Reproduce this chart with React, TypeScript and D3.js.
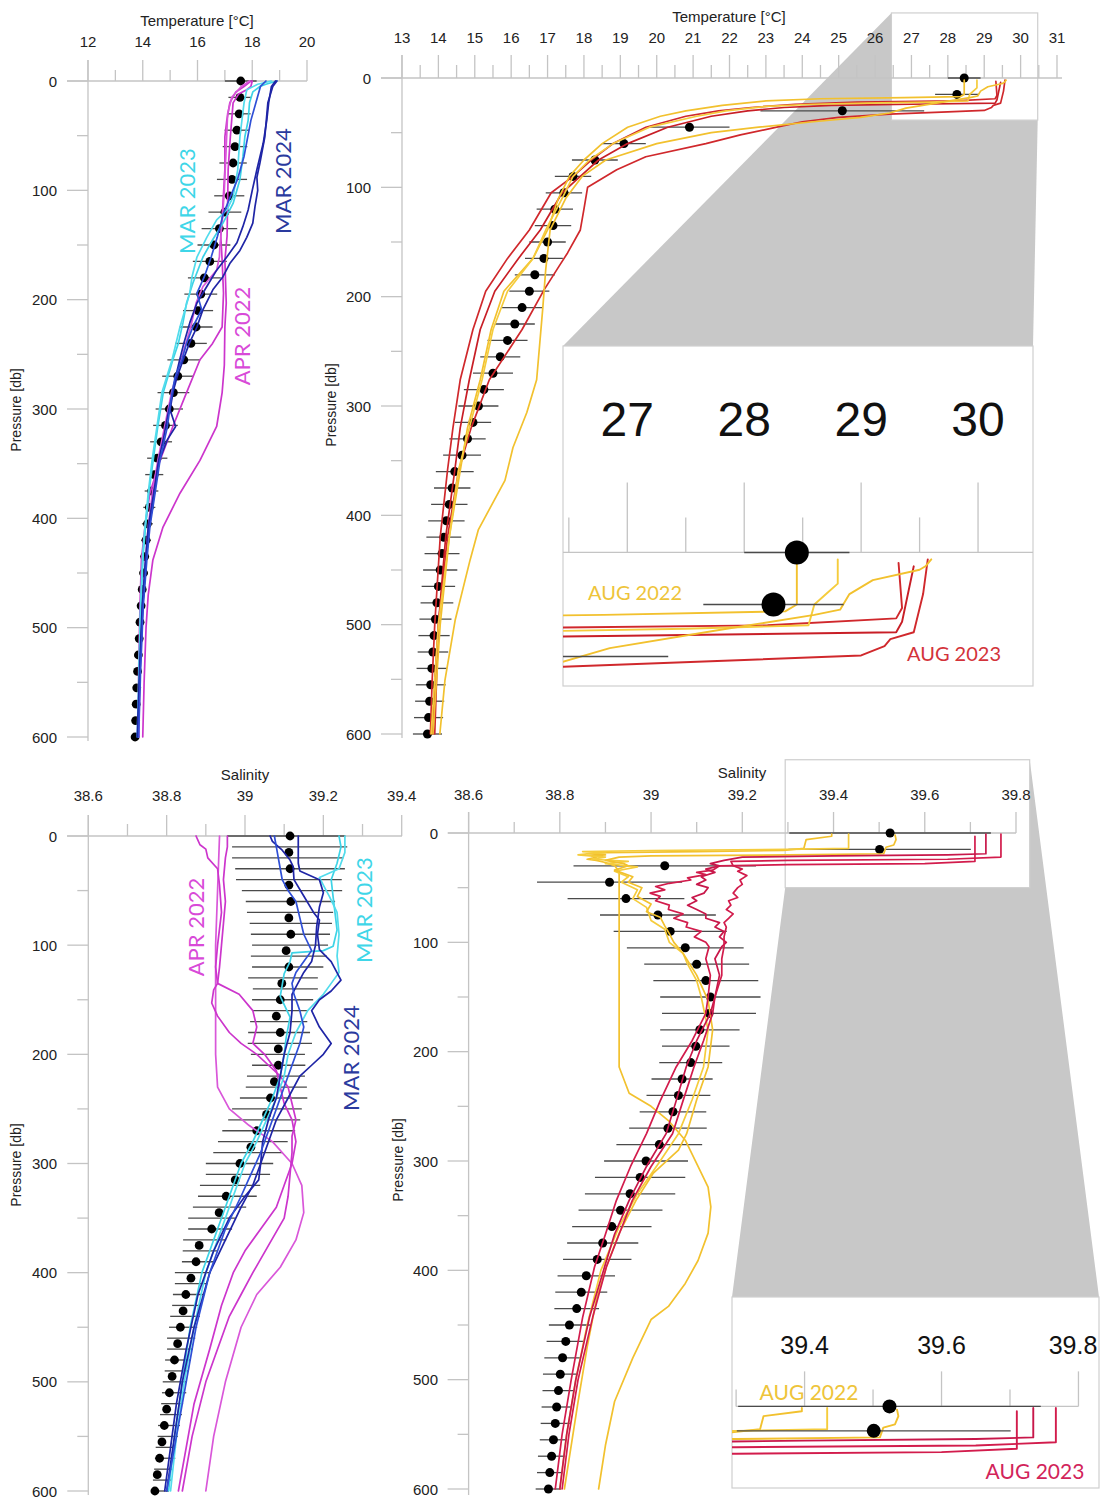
import React from "react";
import * as d3 from "d3";

type P = [number, number][];

// ---------------- levels & ticks ----------------
const LEV15 = d3.range(0, 601, 15);
const LEV10 = d3.range(0, 601, 10);
const P_MAJOR = [0, 100, 200, 300, 400, 500, 600];
const P_MINOR = [50, 150, 250, 350, 450, 550];
const T_TL_MAJOR = [12, 14, 16, 18, 20];
const T_TL_MINOR = [13, 15, 17, 19];
const T_TR_MAJOR = [13, 14, 15, 16, 17, 18, 19, 20, 21, 22, 23, 24, 25, 26, 27, 28, 29, 30, 31];
const T_TR_MINOR = [13.5, 14.5, 15.5, 16.5, 17.5, 18.5, 19.5, 20.5, 21.5, 22.5, 23.5, 24.5, 25.5, 26.5, 27.5, 28.5, 29.5, 30.5];
const S_BL_MAJOR = [38.6, 38.8, 39.0, 39.2, 39.4];
const S_BL_MINOR = [38.7, 38.9, 39.1, 39.3];
const S_BR_MAJOR = [38.6, 38.8, 39.0, 39.2, 39.4, 39.6, 39.8];
const S_BR_MINOR = [38.7, 38.9, 39.1, 39.3, 39.5, 39.7];
const T_IN_MAJOR = [27, 28, 29, 30];
const T_IN_MINOR = [26.5, 27.5, 28.5, 29.5];
const S_IN_MAJOR = [39.4, 39.6, 39.8];
const S_IN_MINOR = [39.3, 39.5, 39.7];

// ---------------- climatology (dots + bars) ----------------
const TL_DOT = [17.58,17.55,17.52,17.44,17.37,17.3,17.26,17.16,17.0,16.8,16.6,16.45,16.25,16.12,16.02,15.95,15.76,15.5,15.28,15.12,14.97,14.83,14.67,14.53,14.42,14.32,14.24,14.17,14.12,14.07,14.03,13.98,13.94,13.9,13.87,13.84,13.81,13.78,13.76,13.74,13.72];
const TL_SD = [0.58,0.42,0.42,0.45,0.45,0.5,0.55,0.55,0.6,0.65,0.6,0.62,0.6,0.6,0.55,0.6,0.58,0.6,0.57,0.58,0.5,0.45,0.4,0.37,0.33,0.25,0.22,0.2,0.18,0.16,0.15,0.14,0.13,0.12,0.12,0.11,0.1,0.1,0.09,0.09,0.08];
const TR_DOT = [28.45,28.25,25.1,20.9,19.1,18.3,17.7,17.45,17.2,17.15,17.0,16.9,16.65,16.5,16.3,16.1,15.9,15.7,15.5,15.25,15.1,14.95,14.8,14.65,14.45,14.38,14.3,14.22,14.15,14.1,14.05,14.0,13.96,13.92,13.88,13.85,13.82,13.79,13.76,13.73,13.7];
const TR_SD = [0.45,0.6,2.25,1.1,0.6,0.63,0.5,0.5,0.5,0.5,0.5,0.52,0.55,0.55,0.55,0.55,0.55,0.55,0.55,0.55,0.55,0.5,0.5,0.52,0.52,0.5,0.5,0.5,0.48,0.48,0.47,0.46,0.45,0.44,0.43,0.42,0.42,0.41,0.4,0.4,0.4];
const BL_DOT = [39.115,39.112,39.115,39.112,39.117,39.112,39.117,39.105,39.112,39.094,39.09,39.08,39.09,39.085,39.085,39.075,39.065,39.055,39.03,39.015,38.987,38.975,38.952,38.934,38.915,38.883,38.875,38.862,38.849,38.842,38.835,38.828,38.82,38.814,38.807,38.8,38.794,38.788,38.782,38.776,38.77];
const BL_BAR = [39.105,39.114,39.109,39.115,39.112,39.12,39.116,39.115,39.117,39.116,39.115,39.112,39.109,39.097,39.103,39.096,39.089,39.086,39.087,39.089,39.084,39.086,39.079,39.08,39.073,39.056,39.049,39.035,39.02,39.008,38.986,38.982,38.962,38.955,38.935,38.915,38.911,38.897,38.886,38.879,38.867,38.862,38.857,38.852,38.847,38.842,38.837,38.834,38.829,38.826,38.821,38.819,38.814,38.811,38.806,38.803,38.798,38.796,38.791,38.788,38.783];
const BL_SD = [0.151,0.147,0.142,0.14,0.135,0.128,0.114,0.11,0.105,0.101,0.097,0.097,0.091,0.089,0.083,0.078,0.069,0.073,0.079,0.082,0.069,0.068,0.074,0.078,0.086,0.089,0.092,0.093,0.089,0.089,0.086,0.082,0.077,0.075,0.068,0.06,0.056,0.055,0.045,0.04,0.046,0.041,0.041,0.038,0.038,0.036,0.036,0.033,0.033,0.031,0.031,0.031,0.028,0.028,0.028,0.026,0.026,0.026,0.023,0.023,0.023];
const BR_DOT = [39.524,39.501,39.03,38.909,38.945,39.015,39.042,39.075,39.1,39.12,39.13,39.127,39.107,39.098,39.087,39.068,39.06,39.048,39.037,39.018,38.989,38.976,38.954,38.933,38.914,38.894,38.882,38.858,38.847,38.837,38.821,38.813,38.806,38.801,38.797,38.793,38.79,38.786,38.782,38.778,38.775];
const BR_SD = [0.221,0.2,0.2,0.159,0.128,0.127,0.124,0.128,0.115,0.115,0.11,0.103,0.087,0.074,0.069,0.067,0.07,0.073,0.085,0.094,0.092,0.099,0.099,0.092,0.087,0.078,0.075,0.063,0.057,0.049,0.045,0.042,0.04,0.038,0.035,0.033,0.032,0.03,0.03,0.028,0.028];

// ---------------- profiles: [pressure, value] ----------------
// Temperature, MAR/APR
const TL_MAR24_A: P = [[0,18.85],[5,18.7],[20,18.6],[36,18.53],[57,18.4],[81,18.17],[100,18.0],[118,17.85],[133,17.66],[148,17.44],[161,17.07],[173,16.7],[188,16.34],[203,15.98],[221,15.72],[240,15.5],[255,15.35],[271,15.2],[285,15.1],[301,15.0],[316,15.2],[328,14.9],[347,14.6],[377,14.42],[408,14.24],[438,14.12],[480,14.0],[540,13.9],[600,13.82]];
const TL_MAR24_B: P = [[0,18.9],[5,18.75],[20,18.57],[51,18.46],[75,18.28],[88,18.17],[100,18.2],[115,18.1],[130,18.02],[143,17.8],[155,17.55],[167,17.18],[179,16.93],[191,16.56],[209,16.2],[225,15.98],[240,15.7],[255,15.48],[271,15.25],[285,15.1],[301,14.95],[328,14.75],[347,14.58],[377,14.4],[408,14.2],[438,14.1],[480,13.98],[540,13.88],[600,13.8]];
const TL_MAR24_C: P = [[0,18.5],[5,18.3],[36,17.95],[69,17.7],[90,17.46],[106,17.2],[121,16.95],[143,16.72],[161,16.5],[179,16.25],[194,15.98],[209,16.15],[225,15.83],[240,15.6],[255,15.43],[271,15.18],[285,15.07],[301,14.98],[316,14.9],[347,14.63],[377,14.45],[408,14.26],[438,14.15],[480,14.02],[540,13.92],[600,13.85]];
const TL_MAR23_A: P = [[0,18.9],[3,18.5],[5,18.28],[10,18.02],[20,17.9],[36,17.85],[51,17.73],[69,17.66],[90,17.55],[112,17.3],[130,16.93],[145,16.56],[161,16.2],[185,15.83],[203,15.6],[221,15.47],[240,15.3],[255,15.1],[285,14.75],[316,14.55],[347,14.38],[377,14.22],[408,14.1],[432,14.02],[480,13.93],[540,13.87],[600,13.83]];
const TL_MAR23_B: P = [[0,18.7],[3,18.2],[8,17.8],[20,17.7],[51,17.55],[81,17.47],[106,17.3],[118,17.07],[127,16.7],[143,16.34],[161,15.98],[179,15.8],[194,15.72],[225,15.36],[255,15.07],[285,14.7],[316,14.52],[347,14.34],[377,14.2],[408,14.08],[432,14.0],[480,13.92],[540,13.86],[600,13.8]];
const TL_APR22_A: P = [[0,18.0],[5,17.95],[8,17.8],[12,17.5],[20,17.3],[51,17.2],[81,17.12],[112,17.1],[142,17.08],[164,17.0],[203,17.05],[225,17.0],[260,16.98],[285,16.9],[316,16.7],[347,16.09],[377,15.36],[408,14.74],[438,14.37],[470,14.2],[500,14.12],[550,14.05],[600,14.0]];
const TL_APR22_B: P = [[0,17.95],[5,17.7],[10,17.4],[20,17.18],[36,17.07],[51,17.0],[81,17.0],[112,16.93],[142,16.85],[164,16.9],[194,16.95],[225,16.9],[240,16.55],[255,16.09],[285,15.6],[316,15.1],[347,14.63],[377,14.26],[408,14.08],[438,13.95],[480,13.9],[540,13.85],[600,13.85]];
const TL_APR22_C: P = [[0,17.9],[5,17.6],[15,17.25],[30,17.1],[60,17.05],[100,16.98],[130,16.9],[150,16.82],[161,16.8],[173,16.7],[188,16.2],[203,15.95],[225,15.75],[255,15.4],[285,15.05],[316,14.8],[347,14.55],[377,14.35],[408,14.2],[438,14.1],[480,14.0],[540,13.9],[600,13.85]];

// Temperature, AUG
const TR_AUG22_A: P = [[2,28.45],[15,28.45],[17,28.35],[18,26.8],[19,24.5],[21,23.0],[25,21.8],[30,20.8],[35,20.1],[45,19.2],[60,18.5],[75,18.0],[90,17.6],[110,17.3],[139,17.0],[165,16.6],[195,15.8],[230,15.45],[276,15.15],[320,14.8],[359,14.6],[420,14.3],[500,14.05],[550,13.95],[600,13.85]];
const TR_AUG22_B: P = [[2,28.8],[9,28.8],[12,28.7],[15,28.6],[21,28.55],[22,27.5],[23,25.8],[24,24.3],[26,23.0],[30,21.9],[35,21.1],[45,19.8],[60,18.8],[75,18.15],[90,17.7],[110,17.4],[139,16.95],[165,16.6],[195,15.9],[230,15.5],[276,15.2],[320,14.85],[359,14.55],[420,14.3],[500,14.0],[550,13.9],[600,13.8]];
const TR_AUG22_C: P = [[2,29.6],[4,29.55],[5,29.5],[8,29.1],[12,28.9],[16.5,28.82],[18,28.6],[22,27.85],[27.6,26.85],[32,26.4],[36,25.6],[40,24.3],[45,22.8],[50,21.5],[60,20.0],[75,18.6],[90,17.95],[110,17.5],[139,17.07],[175,16.95],[210,16.87],[276,16.7],[306,16.43],[338,16.05],[368,15.83],[413,15.1],[441,14.87],[496,14.46],[551,14.18],[600,14.04]];
const TR_AUG23_A: P = [[3,29.32],[16,29.35],[19,29.3],[21,28.2],[22,25.5],[24,23.8],[27,22.6],[30,21.7],[35,20.8],[45,19.7],[60,18.8],[75,18.2],[90,17.7],[105,17.1],[139,16.5],[165,15.9],[195,15.3],[230,14.95],[276,14.6],[320,14.4],[359,14.25],[420,14.05],[500,13.9],[550,13.83],[600,13.78]];
const TR_AUG23_B: P = [[4,29.45],[12,29.4],[20,29.35],[23,29.3],[24,27.0],[25,24.8],[27,23.5],[30,22.5],[35,21.5],[45,20.3],[60,19.2],[75,18.4],[90,17.9],[105,17.4],[139,16.8],[165,16.2],[195,15.55],[230,15.15],[276,14.85],[320,14.6],[359,14.45],[420,14.2],[500,14.0],[550,13.9],[600,13.85]];
const TR_AUG23_C: P = [[2,29.57],[12,29.53],[23,29.45],[25,29.25],[27,29.2],[29.7,29.0],[31,28.0],[33,26.4],[36,25.0],[40,24.0],[45,23.3],[52,22.3],[60,21.35],[72,19.7],[84,18.9],[100,18.1],[120,18.0],[139,17.9],[160,17.55],[173,17.3],[194,16.9],[230,16.3],[276,15.4],[320,14.9],[360,14.55],[420,14.25],[500,14.0],[550,13.95],[600,13.9]];

// Salinity, MAR/APR
const BL_APR22_A: P = [[0,38.935],[50,38.93],[100,38.925],[150,38.925],[200,38.925],[230,38.93],[250,38.96],[265,39.01],[280,39.07],[300,39.12],[320,39.145],[345,39.15],[370,39.13],[395,39.09],[420,39.03],[450,38.99],[500,38.95],[550,38.92],[600,38.9]];
const BL_APR22_B: P = [[0,38.875],[4,38.88],[8,38.885],[12,38.9],[20,38.905],[30,38.93],[45,38.935],[70,38.94],[100,38.93],[120,38.925],[135,38.93],[145,38.985],[160,39.02],[175,39.03],[190,39.02],[200,39.05],[215,39.08],[230,39.09],[245,39.1],[260,39.12],[280,39.13],[300,39.12],[320,39.1],[340,39.08],[360,39.04],[380,39.0],[400,38.97],[430,38.94],[470,38.91],[520,38.87],[560,38.85],[600,38.83]];
const BL_APR22_C: P = [[0,38.955],[10,38.955],[20,38.95],[40,38.945],[60,38.95],[80,38.945],[100,38.94],[120,38.935],[135,38.93],[141,38.92],[153,38.915],[165,38.93],[180,38.96],[190,38.99],[200,39.03],[210,39.06],[220,39.09],[230,39.11],[245,39.12],[260,39.13],[275,39.12],[290,39.12],[310,39.115],[330,39.11],[350,39.1],[375,39.06],[400,39.02],[420,38.99],[440,38.96],[470,38.93],[500,38.9],[550,38.865],[600,38.84]];
const BL_MAR23_A: P = [[0,39.24],[10,39.245],[25,39.235],[40,39.22],[56,39.225],[86,39.235],[101,39.225],[105,39.2],[107,39.12],[115,39.115],[126,39.1],[147,39.09],[166,39.115],[185,39.105],[200,39.1],[220,39.09],[240,39.07],[260,39.045],[280,39.02],[300,38.99],[330,38.96],[360,38.93],[400,38.89],[450,38.86],[500,38.84],[550,38.82],[600,38.805]];
const BL_MAR23_B: P = [[0,39.255],[15,39.255],[30,39.24],[38,39.19],[45,39.2],[55,39.215],[70,39.235],[90,39.24],[110,39.235],[125,39.24],[135,39.22],[145,39.2],[160,39.16],[180,39.13],[200,39.11],[220,39.1],[240,39.08],[260,39.055],[280,39.03],[300,39.0],[330,38.97],[360,38.94],[400,38.9],[450,38.87],[500,38.845],[550,38.825],[600,38.81]];
const BL_MAR24_A: P = [[0,39.064],[5,39.07],[13,39.095],[22,39.115],[28,39.123],[40,39.125],[55,39.15],[70,39.175],[77,39.19],[90,39.185],[104,39.19],[115,39.22],[132,39.245],[142,39.22],[150,39.19],[160,39.17],[175,39.19],[190,39.22],[200,39.2],[210,39.17],[220,39.14],[240,39.11],[260,39.08],[280,39.06],[300,39.04],[320,39.02],[340,38.99],[370,38.95],[400,38.91],[450,38.87],[500,38.84],[550,38.82],[600,38.8]];
const BL_MAR24_B: P = [[0,39.136],[25,39.136],[32,39.14],[40,39.19],[52,39.2],[65,39.19],[83,39.183],[100,39.18],[115,39.17],[125,39.15],[135,39.135],[145,39.12],[160,39.12],[180,39.115],[200,39.1],[220,39.09],[240,39.08],[260,39.06],[280,39.045],[300,39.04],[315,39.035],[330,39.0],[350,38.96],[380,38.92],[420,38.88],[470,38.85],[520,38.825],[560,38.81],[600,38.795]];
const BL_MAR24_C: P = [[0,39.075],[10,39.08],[20,39.085],[30,39.09],[40,39.095],[50,39.11],[60,39.13],[75,39.14],[90,39.15],[105,39.17],[115,39.15],[125,39.13],[135,39.12],[145,39.125],[160,39.14],[175,39.15],[190,39.14],[210,39.12],[230,39.1],[250,39.08],[270,39.06],[290,39.04],[310,39.015],[330,38.99],[360,38.95],[400,38.91],[450,38.875],[500,38.85],[550,38.825],[600,38.8]];

// Salinity, AUG
const BR_AUG22_A: P = [[1,39.396],[3,39.396],[6,39.34],[14,39.335],[16,39.29],[17,39.1],[18,38.9],[19,38.86],[20,38.9],[21,38.87],[22,38.88],[24,38.86],[25,38.88],[27,38.9],[30,38.92],[35,38.93],[50,38.93],[90,38.93],[150,38.93],[214,38.93],[238,38.952],[250,39.0],[263,39.038],[281,39.075],[305,39.103],[324,39.125],[342,39.131],[366,39.125],[391,39.103],[412,39.075],[433,39.038],[445,39.0],[480,38.96],[520,38.92],[560,38.9],[600,38.885]];
const BR_AUG22_B: P = [[1,39.433],[14,39.433],[15,39.3],[16,39.0],[17,38.85],[18,38.9],[19,38.86],[20,38.84],[22,38.9],[24,38.87],[26,38.95],[28,38.9],[31,38.97],[35,38.92],[40,38.95],[45,38.935],[52,38.97],[60,38.96],[68,38.99],[80,39.0],[88,39.03],[100,39.04],[110,39.07],[120,39.08],[135,39.1],[150,39.11],[180,39.125],[214,39.115],[244,39.09],[275,39.06],[300,39.02],[330,38.97],[360,38.93],[400,38.89],[450,38.86],[500,38.835],[550,38.815],[600,38.8]];
const BR_AUG22_C: P = [[2,39.535],[6,39.537],[11,39.532],[13,39.515],[19,39.51],[20,39.3],[21,39.0],[22,38.93],[25,38.9],[28,38.94],[30,38.95],[34,38.92],[40,38.96],[45,38.95],[50,38.98],[58,38.97],[65,39.0],[72,38.99],[77,39.02],[85,39.03],[92,39.04],[100,39.05],[110,39.07],[130,39.1],[153,39.125],[180,39.135],[214,39.125],[244,39.1],[275,39.078],[290,39.06],[311,39.005],[336,38.967],[366,38.93],[397,38.902],[427,38.88],[470,38.86],[520,38.84],[560,38.825],[600,38.81]];
const BR_AUG23_A: P = [[3,39.71],[26,39.71],[28,39.6],[29,39.3],[30,39.15],[34,39.135],[36,39.1],[38,39.12],[41,39.08],[43,39.087],[46,39.04],[49,39.01],[52,39.03],[55,38.998],[58,39.02],[62,39.01],[66,39.04],[70,39.038],[74,39.07],[78,39.05],[82,39.08],[86,39.077],[90,39.11],[95,39.095],[100,39.12],[104,39.127],[115,39.12],[130,39.13],[150,39.125],[165,39.12],[190,39.09],[214,39.055],[245,39.02],[275,38.99],[305,38.955],[336,38.924],[367,38.9],[397,38.876],[443,38.85],[500,38.825],[550,38.805],[600,38.79]];
const BR_AUG23_B: P = [[1,39.734],[19,39.734],[20,39.65],[21,39.4],[22,39.2],[25,39.16],[28,39.13],[30,39.15],[33,39.12],[36,39.14],[40,39.11],[43,39.12],[47,39.1],[50,39.125],[55,39.116],[59,39.09],[62,39.1],[66,39.08],[70,39.1],[74,39.12],[78,39.12],[82,39.15],[86,39.14],[90,39.16],[95,39.15],[100,39.165],[104,39.155],[115,39.14],[130,39.15],[150,39.14],[165,39.13],[190,39.1],[214,39.077],[245,39.055],[275,39.033],[305,38.99],[336,38.952],[367,38.92],[397,38.898],[443,38.865],[500,38.835],[550,38.815],[600,38.8]];
const BR_AUG23_C: P = [[1,39.767],[22,39.767],[24,39.65],[25,39.3],[26,39.175],[30,39.18],[33,39.2],[35,39.19],[39,39.21],[43,39.195],[47,39.2],[50,39.19],[55,39.18],[59,39.19],[62,39.17],[66,39.175],[70,39.165],[74,39.18],[78,39.17],[82,39.16],[86,39.165],[95,39.16],[104,39.16],[115,39.155],[130,39.155],[150,39.14],[165,39.135],[190,39.115],[214,39.094],[245,39.07],[275,39.047],[305,39.0],[336,38.959],[367,38.93],[397,38.902],[443,38.872],[500,38.84],[550,38.82],[600,38.805]];

// ---------------- styles ----------------
const FONT = "'Liberation Sans', Arial, sans-serif";
const LFONT = "Lato, 'Open Sans', sans-serif";
const AX = "#c4c4c4";
const BAR = "#4a4a4a";
const NAVY = "#1f25a6";
const ROYAL = "#2f4fd6";
const CYAN = "#3dd3e6";
const CYAN2 = "#52dcec";
const MAG = "#cc35cc";
const MAG2 = "#d957d9";
const YEL = "#f2c12e";
const YEL2 = "#f5cc3c";
const RED = "#d0282c";
const RED2 = "#c81e26";
const CRIM = "#d21c4c";
const CRIM2 = "#c8174a";

type Prof = { d: P; c: string };
const TL_PROFS: Prof[] = [
  { d: TL_APR22_A, c: MAG }, { d: TL_APR22_B, c: MAG }, { d: TL_APR22_C, c: MAG2 },
  { d: TL_MAR23_A, c: CYAN }, { d: TL_MAR23_B, c: CYAN2 },
  { d: TL_MAR24_A, c: NAVY }, { d: TL_MAR24_B, c: NAVY }, { d: TL_MAR24_C, c: ROYAL },
];
const TR_PROFS: Prof[] = [
  { d: TR_AUG23_A, c: RED }, { d: TR_AUG23_B, c: RED2 }, { d: TR_AUG23_C, c: RED },
  { d: TR_AUG22_A, c: YEL }, { d: TR_AUG22_B, c: YEL2 }, { d: TR_AUG22_C, c: YEL },
];
const BL_PROFS: Prof[] = [
  { d: BL_APR22_A, c: MAG2 }, { d: BL_APR22_B, c: MAG }, { d: BL_APR22_C, c: MAG },
  { d: BL_MAR23_A, c: CYAN }, { d: BL_MAR23_B, c: CYAN2 },
  { d: BL_MAR24_A, c: NAVY }, { d: BL_MAR24_B, c: NAVY }, { d: BL_MAR24_C, c: ROYAL },
];
const BR_PROFS: Prof[] = [
  { d: BR_AUG22_A, c: YEL }, { d: BR_AUG22_B, c: YEL2 }, { d: BR_AUG22_C, c: YEL },
  { d: BR_AUG23_A, c: CRIM }, { d: BR_AUG23_B, c: CRIM2 }, { d: BR_AUG23_C, c: CRIM },
];

type Sc = d3.ScaleLinear<number, number>;

function Lines({ profs, x, y, clip, w = 1.7 }: { profs: Prof[]; x: Sc; y: Sc; clip?: string; w?: number }) {
  const line = d3.line<[number, number]>().x((d) => x(d[1])).y((d) => y(d[0]));
  return (
    <g clipPath={clip ? `url(#${clip})` : undefined}>
      {profs.map((p, i) => (
        <path key={i} d={line(p.d) || ""} fill="none" stroke={p.c} strokeWidth={w} strokeLinejoin="round" strokeLinecap="round" />
      ))}
    </g>
  );
}

function Bars({ lev, mean, sd, x, y, clip, w = 1.3 }: { lev: number[]; mean: number[]; sd: number[]; x: Sc; y: Sc; clip?: string; w?: number }) {
  return (
    <g clipPath={clip ? `url(#${clip})` : undefined} stroke={BAR} strokeWidth={w}>
      {lev.map((p, i) => (
        <line key={i} x1={x(mean[i] - sd[i])} x2={x(mean[i] + sd[i])} y1={y(p)} y2={y(p)} />
      ))}
    </g>
  );
}

function Dots({ lev, mean, x, y, r, clip }: { lev: number[]; mean: number[]; x: Sc; y: Sc; r: number; clip?: string }) {
  return (
    <g clipPath={clip ? `url(#${clip})` : undefined} fill="#000">
      {lev.map((p, i) => (
        <circle key={i} cx={x(mean[i])} cy={y(p)} r={r} />
      ))}
    </g>
  );
}

const fmt = (v: number) => String(+v.toFixed(1));

function Axes(props: {
  x: Sc; y: Sc; maj: number[]; min: number[]; hx0: number; hx1: number; vy0: number; vy1: number;
  majLen: number; minLen: number; lMaj: number; lMin: number; labY: number; labRight: number;
  title: string; titleX: number; titleY: number; presX: number; presY: number;
}) {
  const { x, y } = props;
  const y0 = y(0);
  const x0 = x.range()[0];
  return (
    <g>
      <g stroke={AX} strokeWidth={1.3}>
        <line x1={props.hx0} x2={props.hx1} y1={y0} y2={y0} />
        <line x1={x0} x2={x0} y1={props.vy0} y2={props.vy1} />
        {props.maj.map((v) => <line key={"a" + v} x1={x(v)} x2={x(v)} y1={y0} y2={y0 - props.majLen} />)}
        {props.min.map((v) => <line key={"b" + v} x1={x(v)} x2={x(v)} y1={y0} y2={y0 - props.minLen} />)}
        {P_MAJOR.map((p) => <line key={"c" + p} x1={x0 - props.lMaj} x2={x0} y1={y(p)} y2={y(p)} />)}
        {P_MINOR.map((p) => <line key={"d" + p} x1={x0 - props.lMin} x2={x0} y1={y(p)} y2={y(p)} />)}
      </g>
      <g fontSize={15} fill="#222" fontFamily={FONT}>
        {props.maj.map((v) => (
          <text key={"t" + v} x={x(v)} y={props.labY} textAnchor="middle" dominantBaseline="central">{fmt(v)}</text>
        ))}
        {P_MAJOR.map((p) => (
          <text key={"p" + p} x={props.labRight} y={y(p)} textAnchor="end" dominantBaseline="central">{p}</text>
        ))}
        <text x={props.titleX} y={props.titleY} textAnchor="middle" dominantBaseline="central">{props.title}</text>
      </g>
      <text transform={`translate(${props.presX},${props.presY}) rotate(-90)`} textAnchor="middle" dominantBaseline="central" fontSize={14} fill="#222" fontFamily={FONT}>Pressure [db]</text>
    </g>
  );
}

function VLabel({ x, y, text, color, size = 22 }: { x: number; y: number; text: string; color: string; size?: number }) {
  return (
    <text transform={`translate(${x},${y}) rotate(-90)`} textAnchor="middle" dominantBaseline="central" fontSize={size} fill={color} fontFamily={LFONT}>{text}</text>
  );
}

export default function App() {
  // main panel scales
  const tlx = d3.scaleLinear().domain([12, 20]).range([88, 307]);
  const tly = d3.scaleLinear().domain([0, 600]).range([81, 737]);
  const trx = d3.scaleLinear().domain([13, 31]).range([402, 1057]);
  const try_ = d3.scaleLinear().domain([0, 600]).range([78, 734]);
  const blx = d3.scaleLinear().domain([38.6, 39.4]).range([88.3, 401.7]);
  const bly = d3.scaleLinear().domain([0, 600]).range([836, 1491]);
  const brx = d3.scaleLinear().domain([38.6, 39.8]).range([468.6, 1016]);
  const bry = d3.scaleLinear().domain([0, 600]).range([833, 1489]);

  // insets: zoomed windows [value range] x [pressure range]
  const TR_WIN = [26.45, 30.47, -59.5, 38.5];
  const TR_BOX = [563, 346, 1033, 686];
  const BR_WIN = [39.294, 39.83, -67, 50];
  const BR_BOX = [732, 1297, 1099, 1488];
  const tix = d3.scaleLinear().domain([TR_WIN[0], TR_WIN[1]]).range([TR_BOX[0], TR_BOX[2]]);
  const tiy = d3.scaleLinear().domain([TR_WIN[2], TR_WIN[3]]).range([TR_BOX[1], TR_BOX[3]]);
  const bix = d3.scaleLinear().domain([BR_WIN[0], BR_WIN[1]]).range([BR_BOX[0], BR_BOX[2]]);
  const biy = d3.scaleLinear().domain([BR_WIN[2], BR_WIN[3]]).range([BR_BOX[1], BR_BOX[3]]);

  // small boxes on main panels
  const trS = [trx(TR_WIN[0]), try_(TR_WIN[2]), trx(TR_WIN[1]), try_(TR_WIN[3])];
  const brS = [brx(BR_WIN[0]), bry(BR_WIN[2]), brx(BR_WIN[1]), bry(BR_WIN[3])];

  const trPoly = [[trS[0], trS[1]], [TR_BOX[0], TR_BOX[1]], [TR_BOX[2], TR_BOX[1]], [trS[2], trS[3]], [trS[2], trS[1]]];
  const brPoly = [[brS[0], brS[3]], [BR_BOX[0], BR_BOX[1]], [BR_BOX[2], BR_BOX[1]], [brS[2], brS[1]], [brS[0], brS[1]]];
  const poly = (pts: number[][]) => pts.map((p) => p.join(",")).join(" ");

  const lev15top = LEV15.slice(0, 3);

  return (
    <svg width={1101} height={1498} style={{ position: "absolute", left: 0, top: 0 }}>
      <defs>
        <clipPath id="clipTR"><rect x={TR_BOX[0]} y={TR_BOX[1]} width={TR_BOX[2] - TR_BOX[0]} height={TR_BOX[3] - TR_BOX[1]} /></clipPath>
        <clipPath id="clipBR"><rect x={BR_BOX[0]} y={BR_BOX[1]} width={BR_BOX[2] - BR_BOX[0]} height={BR_BOX[3] - BR_BOX[1]} /></clipPath>
      </defs>
      <rect width={1101} height={1498} fill="#fff" />

      {/* ---------- Top-left: temperature MAR/APR ---------- */}
      <Axes x={tlx} y={tly} maj={T_TL_MAJOR} min={T_TL_MINOR} hx0={67} hx1={307} vy0={60} vy1={741}
        majLen={21} minLen={11} lMaj={21} lMin={11} labY={41} labRight={57}
        title="Temperature [°C]" titleX={197} titleY={20} presX={16} presY={410} />
      <Bars lev={LEV15} mean={TL_DOT} sd={TL_SD} x={tlx} y={tly} />
      <Dots lev={LEV15} mean={TL_DOT} x={tlx} y={tly} r={4.4} />
      <Lines profs={TL_PROFS} x={tlx} y={tly} />
      <VLabel x={186} y={201} text="MAR 2023" color="#3fd6e8" />
      <VLabel x={282} y={181} text="MAR 2024" color="#2a3a9e" />
      <VLabel x={241} y={336} text="APR 2022" color="#d84ad8" />

      {/* ---------- Top-right: temperature AUG ---------- */}
      <polygon points={poly(trPoly)} fill="#c8c8c8" />
      <rect x={trS[0]} y={trS[1]} width={trS[2] - trS[0]} height={trS[3] - trS[1]} fill="#fff" stroke="#cfcfcf" strokeWidth={1.2} />
      <Axes x={trx} y={try_} maj={T_TR_MAJOR} min={T_TR_MINOR} hx0={381} hx1={1062} vy0={55} vy1={738}
        majLen={23} minLen={13} lMaj={21} lMin={11} labY={37} labRight={371}
        title="Temperature [°C]" titleX={729} titleY={16} presX={331} presY={405} />
      <Bars lev={LEV15} mean={TR_DOT} sd={TR_SD} x={trx} y={try_} />
      <Dots lev={LEV15} mean={TR_DOT} x={trx} y={try_} r={4.5} />
      <Lines profs={TR_PROFS} x={trx} y={try_} />

      {/* TR inset */}
      <rect x={TR_BOX[0]} y={TR_BOX[1]} width={TR_BOX[2] - TR_BOX[0]} height={TR_BOX[3] - TR_BOX[1]} fill="#fff" stroke="#cfcfcf" strokeWidth={1.2} />
      <g stroke={AX} strokeWidth={1.3}>
        <line x1={TR_BOX[0]} x2={TR_BOX[2]} y1={tiy(0)} y2={tiy(0)} />
        {T_IN_MAJOR.map((v) => <line key={v} x1={tix(v)} x2={tix(v)} y1={tiy(0)} y2={tiy(0) - 70} />)}
        {T_IN_MINOR.map((v) => <line key={v} x1={tix(v)} x2={tix(v)} y1={tiy(0)} y2={tiy(0) - 35} />)}
      </g>
      <g fontSize={48} fill="#111" fontFamily={FONT}>
        {T_IN_MAJOR.map((v) => <text key={v} x={tix(v)} y={419} textAnchor="middle" dominantBaseline="central">{fmt(v)}</text>)}
      </g>
      <Lines profs={TR_PROFS} x={tix} y={tiy} clip="clipTR" w={1.9} />
      <Bars lev={lev15top} mean={TR_DOT} sd={TR_SD} x={tix} y={tiy} clip="clipTR" w={1.4} />
      <Dots lev={lev15top} mean={TR_DOT} x={tix} y={tiy} r={12} clip="clipTR" />
      <text x={635} y={592} textAnchor="middle" dominantBaseline="central" fontSize={20} fill="#eec43a" fontFamily={LFONT}>AUG 2022</text>
      <text x={954} y={653} textAnchor="middle" dominantBaseline="central" fontSize={20} fill="#d3333a" fontFamily={LFONT}>AUG 2023</text>

      {/* ---------- Bottom-left: salinity MAR/APR ---------- */}
      <Axes x={blx} y={bly} maj={S_BL_MAJOR} min={S_BL_MINOR} hx0={67} hx1={402} vy0={815} vy1={1495}
        majLen={21} minLen={12} lMaj={21} lMin={11} labY={795} labRight={57}
        title="Salinity" titleX={245} titleY={774} presX={16} presY={1165} />
      <Bars lev={LEV10} mean={BL_BAR} sd={BL_SD} x={blx} y={bly} />
      <Dots lev={LEV15} mean={BL_DOT} x={blx} y={bly} r={4.4} />
      <Lines profs={BL_PROFS} x={blx} y={bly} />
      <VLabel x={195} y={927} text="APR 2022" color="#d84ad8" />
      <VLabel x={363} y={910} text="MAR 2023" color="#3fd6e8" />
      <VLabel x={350} y={1058} text="MAR 2024" color="#2a3a9e" />

      {/* ---------- Bottom-right: salinity AUG ---------- */}
      <polygon points={poly(brPoly)} fill="#c8c8c8" />
      <rect x={brS[0]} y={brS[1]} width={brS[2] - brS[0]} height={brS[3] - brS[1]} fill="#fff" stroke="#cfcfcf" strokeWidth={1.2} />
      <Axes x={brx} y={bry} maj={S_BR_MAJOR} min={S_BR_MINOR} hx0={448} hx1={1016} vy0={812} vy1={1495}
        majLen={21} minLen={11} lMaj={21} lMin={11} labY={794} labRight={438}
        title="Salinity" titleX={742} titleY={772} presX={398} presY={1160} />
      <Bars lev={LEV15} mean={BR_DOT} sd={BR_SD} x={brx} y={bry} />
      <Dots lev={LEV15} mean={BR_DOT} x={brx} y={bry} r={4.5} />
      <Lines profs={BR_PROFS} x={brx} y={bry} />

      {/* BR inset */}
      <rect x={BR_BOX[0]} y={BR_BOX[1]} width={BR_BOX[2] - BR_BOX[0]} height={BR_BOX[3] - BR_BOX[1]} fill="#fff" stroke="#cfcfcf" strokeWidth={1.2} />
      <g stroke={AX} strokeWidth={1.3}>
        <line x1={bix(39.3)} x2={bix(39.8)} y1={biy(0)} y2={biy(0)} />
        {S_IN_MAJOR.map((v) => <line key={v} x1={bix(v)} x2={bix(v)} y1={biy(0)} y2={biy(0) - 35} />)}
        {S_IN_MINOR.map((v) => <line key={v} x1={bix(v)} x2={bix(v)} y1={biy(0)} y2={biy(0) - 17} />)}
      </g>
      <g fontSize={25} fill="#111" fontFamily={FONT}>
        {S_IN_MAJOR.map((v) => <text key={v} x={Math.min(bix(v), 1073)} y={1345} textAnchor="middle" dominantBaseline="central">{fmt(v)}</text>)}
      </g>
      <Lines profs={BR_PROFS} x={bix} y={biy} clip="clipBR" w={1.9} />
      <Bars lev={lev15top} mean={BR_DOT} sd={BR_SD} x={bix} y={biy} clip="clipBR" w={1.4} />
      <Dots lev={lev15top} mean={BR_DOT} x={bix} y={biy} r={7} clip="clipBR" />
      <text x={809} y={1391} textAnchor="middle" dominantBaseline="central" fontSize={21} fill="#eec43a" fontFamily={LFONT}>AUG 2022</text>
      <text x={1035} y={1470} textAnchor="middle" dominantBaseline="central" fontSize={21} fill="#d2245a" fontFamily={LFONT}>AUG 2023</text>
    </svg>
  );
}
